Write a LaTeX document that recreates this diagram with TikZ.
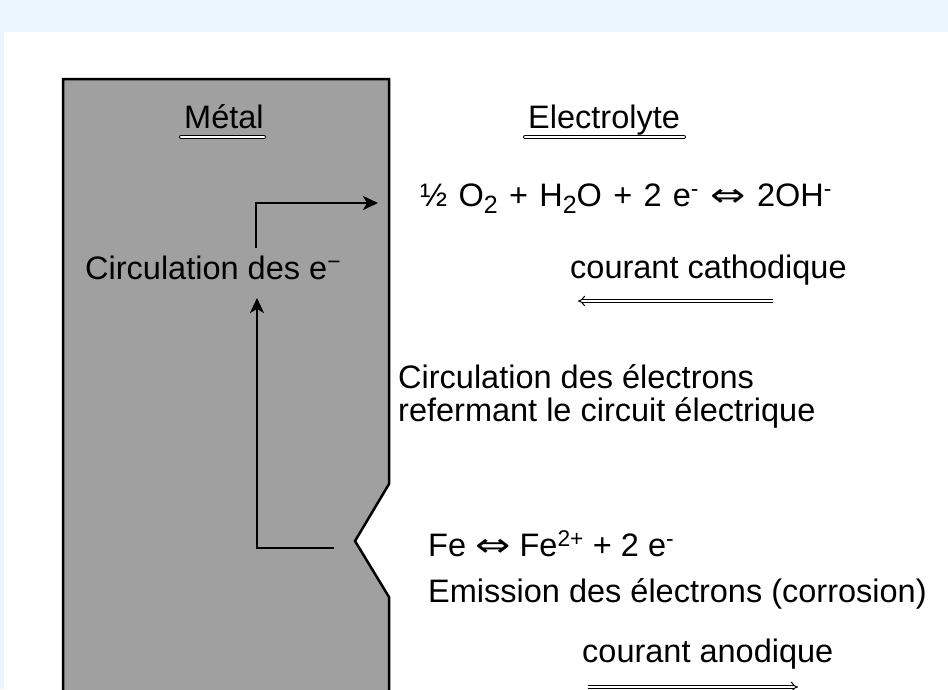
\documentclass[tikz,border=0pt]{standalone}
\usepackage{graphicx}
\usepackage{fontspec}
\setmainfont{Liberation Sans}
\newfontfamily\eqfont[WordSpace=1.25]{Liberation Sans}
\newfontfamily\dejavu{DejaVu Sans}
\newcommand{\eqvarrow}{{\dejavu\scalebox{1.3}[1]{⇔}}}
\newcommand{\chemsub}[1]{\raisebox{-0.22em}{\fontsize{25}{28}\selectfont #1}}
\usetikzlibrary{arrows.meta}
\definecolor{bandblue}{HTML}{EAF6FE}
\definecolor{metalgray}{HTML}{A0A0A0}
\tikzset{
  lbl/.style={anchor=base west, inner sep=0pt, font=\fontsize{32.5}{38}\selectfont},
  eqlbl/.style={anchor=base west, inner sep=0pt, font=\eqfont\fontsize{32.5}{38}\selectfont},
  flow/.style={line width=2pt, -{Stealth[length=15pt, width=14pt, inset=4pt]}},
  dblunder/.style={double=white, double distance=2.2pt, line width=0.9pt, line cap=round},
  curarrow/.style={double=white, double distance=2.6pt, line width=1pt, -{Implies[length=9pt]}},
}
\begin{document}
\begin{tikzpicture}[x=1pt, y=-1pt]
\useasboundingbox (0,0) rectangle (948,689);
% background
\fill[white] (0,0) rectangle (948,689);
\fill[bandblue] (0,0) rectangle (948,32);
\fill[bandblue] (0,32) rectangle (4,689);
% metal
\begin{scope}
\clip (0,0) rectangle (948,689);
\filldraw[fill=metalgray, draw=black, line width=2.5pt, line join=miter]
  (63,700) -- (63,79) -- (389,79) -- (389,484) -- (355,541) -- (389,597) -- (389,700);
\end{scope}
% titles
\node[lbl] (metal) at (184,128) {Métal};
\node[lbl] (electro) at (528,128) {Electrolyte};
\coordinate (mu1) at (181,137);
\coordinate (mu2) at (264,137);
\coordinate (eu1) at (525,137);
\coordinate (eu2) at (684,137);
\draw[dblunder] (mu1) -- (mu2);
\draw[dblunder] (eu1) -- (eu2);
% cathodic reaction
\node[eqlbl] (cath) at (420,206) {½ O\chemsub{2} + H\chemsub{2}O + 2 e\textsuperscript{-} \eqvarrow{} 2OH\textsuperscript{-}};
\node[lbl] (ccath) at (570,278) {courant cathodique};
\coordinate (cc1) at (773,301);
\coordinate (cc2) at (578,301);
\draw[curarrow] (cc1) -- (cc2);
% circulation
\node[lbl] (circ) at (85,279) {Circulation des e\textsuperscript{−}};
\node[lbl] (circ2) at (398,388) {Circulation des électrons};
\node[lbl] (circ3) at (398,421) {refermant le circuit électrique};
% anodic
\node[lbl] (anod) at (428,556) {Fe \eqvarrow{} Fe\textsuperscript{2+} + 2 e\textsuperscript{-}};
\node[lbl] (emis) at (428,602) {Emission des électrons (corrosion)};
\node[lbl] (canod) at (582,662) {courant anodique};
\coordinate (ca1) at (588,687);
\coordinate (ca2) at (798,687);
\draw[curarrow] (ca1) -- (ca2);
% electron path
\coordinate (p1) at (334,548);
\coordinate (p2) at (257,548);
\coordinate (p3) at (257,298);
\draw[flow] (p1) -- (p2) -- (p3);
\coordinate (q1) at (256,248);
\coordinate (q2) at (256,203);
\coordinate (q3) at (378,203);
\draw[flow] (q1) -- (q2) -- (q3);
\end{tikzpicture}
\end{document}
